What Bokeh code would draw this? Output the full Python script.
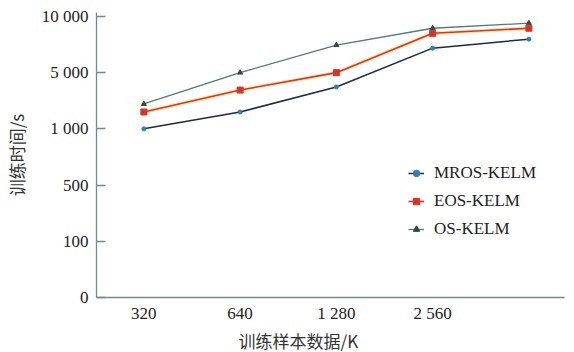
import numpy as np
from bokeh.plotting import figure
from bokeh.models import FixedTicker, Range1d, Legend, LegendItem, Title
from bokeh.embed import file_html
from bokeh.resources import INLINE

# ---- data ----
x_labels = ["320", "640", "1 280", "2 560"]
x_idx = [0, 1, 2, 3, 4]
y_tick_values = [0, 100, 500, 1000, 5000, 10000]
y_tick_labels = ["0", "100", "500", "1 000", "5 000", "10 000"]

mros_kelm = [1000, 2200, 3980, 7180, 7980]
eos_kelm = [2200, 3760, 5000, 8500, 8950]
os_kelm = [2770, 5000, 7450, 8950, 9400]

def to_pos(vals):
    return np.interp(vals, y_tick_values, list(range(len(y_tick_values))))

p = figure(width=566, height=352, output_backend="svg", toolbar_location=None,
           min_border_left=90, min_border_right=2, min_border_top=12, min_border_bottom=54)
p.x_range = Range1d(-0.492, 4.37)
p.y_range = Range1d(0, 5.07)
p.xgrid.visible = False
p.ygrid.visible = False
p.outline_line_color = None

axis_col = "#6f8c8c"
for ax in (p.xaxis[0], p.yaxis[0]):
    ax.axis_line_color = axis_col
    ax.axis_line_width = 1.3
    ax.minor_tick_line_color = None
    ax.major_label_text_font = "Liberation Serif"
    ax.major_label_text_font_size = "17px"
    ax.major_label_text_color = "#222222"

p.xaxis.ticker = FixedTicker(ticks=[0, 1, 2, 3])
p.xaxis.major_label_overrides = {i: s for i, s in enumerate(x_labels)}
p.xaxis.major_tick_line_color = None
p.xaxis.major_tick_in = 0
p.xaxis.major_tick_out = 0
p.xaxis.major_label_standoff = 6

p.yaxis.ticker = FixedTicker(ticks=list(range(len(y_tick_values))))
p.yaxis.major_label_overrides = {i: s for i, s in enumerate(y_tick_labels)}
p.yaxis.major_tick_in = 9
p.yaxis.major_tick_out = 0
p.yaxis.major_tick_line_color = axis_col
p.yaxis.major_tick_line_width = 1.3
p.yaxis.major_label_standoff = 8

p.yaxis.axis_label = "训练时间/s"
p.yaxis.axis_label_text_font = "Noto Sans CJK SC"
p.yaxis.axis_label_text_font_size = "17px"
p.yaxis.axis_label_text_font_style = "normal"
p.yaxis.axis_label_text_color = "#333333"
p.yaxis.axis_label_standoff = 10

# series
y_os = to_pos(os_kelm)
y_eos = to_pos(eos_kelm)
y_mros = to_pos(mros_kelm)

r_os_l = p.line(x_idx, y_os, line_color="#557878", line_width=1.3)
r_os_m = p.scatter(x_idx, y_os, marker="triangle", size=5, fill_color="#2f4a3f", line_color="#2f4a3f")

p.line(x_idx, y_eos, line_color="#f3d35a", line_width=4, line_alpha=0.45)
r_eos_l = p.line(x_idx, y_eos, line_color="#d5342a", line_width=1.6)
r_eos_m = p.scatter(x_idx, y_eos, marker="square", size=6, fill_color="#d5342a", line_color="#d5342a")

r_mros_l = p.line(x_idx, y_mros, line_color="#1d2a40", line_width=1.5)
r_mros_m = p.scatter(x_idx, y_mros, marker="circle", size=4, fill_color="#2d7fb8", line_color="#2d7fb8")

legend = Legend(items=[
    LegendItem(label="MROS-KELM", renderers=[r_mros_l, r_mros_m]),
    LegendItem(label="EOS-KELM", renderers=[r_eos_l, r_eos_m]),
    LegendItem(label="OS-KELM", renderers=[r_os_l, r_os_m]),
], location=(312, 58))
legend.background_fill_alpha = 0
legend.border_line_color = None
legend.padding = 0
legend.margin = 0
legend.spacing = 8
legend.glyph_width = 16
legend.glyph_height = 20
legend.label_height = 20
legend.label_standoff = 10
legend.label_text_font = "Liberation Serif"
legend.label_text_font_size = "17px"
legend.label_text_color = "#222222"
p.add_layout(legend, "center")

xt = Title(text="训练样本数据/K", align="left", offset=142, standoff=0,
           text_font="Noto Sans CJK SC", text_font_size="17px", text_font_style="normal",
           text_color="#333333")
p.add_layout(xt, "below")

open("out.html", "w").write(file_html(p, INLINE))
